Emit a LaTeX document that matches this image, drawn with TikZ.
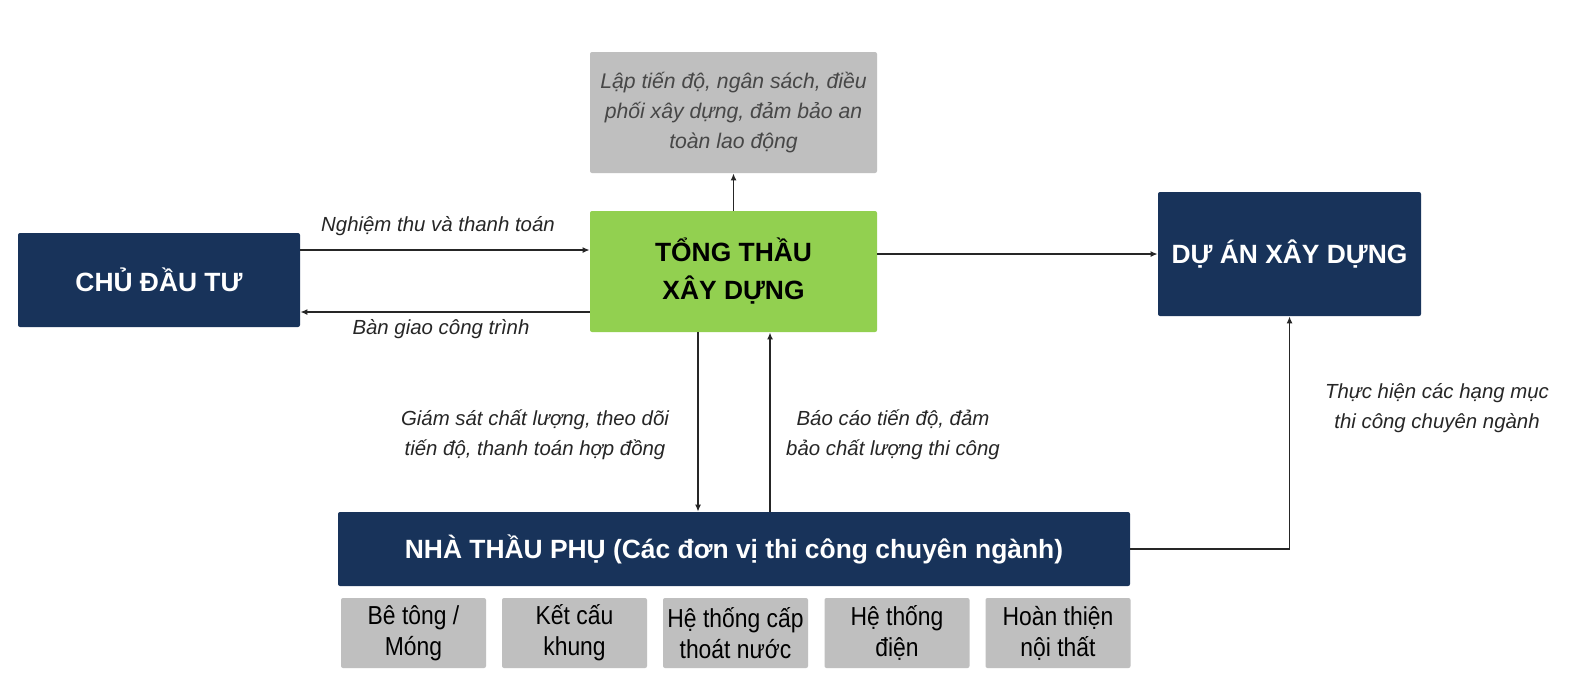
\documentclass[tikz,border=0pt]{standalone}
\usepackage{fontspec}
\setmainfont{Liberation Sans}
\newfontfamily\narrowfont{Liberation Sans}[FakeStretch=0.88]
\usetikzlibrary{arrows.meta}
\definecolor{navy}{HTML}{18335A}
\definecolor{leaf}{HTML}{92D050}
\definecolor{boxgray}{HTML}{BFBFBF}
\definecolor{ink}{HTML}{262626}
\tikzset{
	darkbox/.style={fill=navy, text=white, rounded corners=1pt, inner sep=0pt, align=center, font=\bfseries\fontsize{13.2}{19}\selectfont},
	greenbox/.style={fill=leaf, text=black, rounded corners=1pt, inner sep=0pt, align=center, font=\bfseries\fontsize{13.2}{19}\selectfont},
	notebox/.style={fill=boxgray, text=ink!85, rounded corners=1pt, inner sep=0pt, align=center, font=\itshape\fontsize{10.6}{15}\selectfont},
	subbox/.style={fill=boxgray, text=black, rounded corners=1pt, inner sep=0pt, align=center, minimum width=72.5pt, minimum height=35pt, font=\narrowfont\fontsize{13}{15.5}\selectfont},
	lbl/.style={text=ink, align=center, inner sep=0pt, font=\itshape\fontsize{10.2}{15}\selectfont},
	arr/.style={draw=ink, line width=0.8pt, -{Latex[length=3.5pt,width=3pt]}}
}
\begin{document}
\begin{tikzpicture}[x=0.5pt, y=-0.5pt]
		%%%%% START %%%%%
		\useasboundingbox[fill=white] (0,0) rectangle (1588,698);
		
		\node[darkbox, minimum width=141pt, minimum height=47pt] (chu) at (159,280) {CHỦ ĐẦU TƯ};
		\node[greenbox, minimum width=143.5pt, minimum height=60.5pt] (tong) at (733.5,271.5) {TỔNG THẦU\\XÂY DỰNG};
		\node[notebox, minimum width=143.5pt, minimum height=60.5pt] (note) at (733.5,112.5) {Lập tiến độ, ngân sách, điều\\phối xây dựng, đảm bảo an\\toàn lao động};
		\node[darkbox, minimum width=131.5pt, minimum height=62pt] (duan) at (1289.5,254) {DỰ ÁN XÂY DỰNG};
		\node[darkbox, minimum width=396pt, minimum height=37pt] (phu) at (734,549) {NHÀ THẦU PHỤ (Các đơn vị thi công chuyên ngành)};
		
		\node[subbox] (betong) at (413.5,633) {Bê tông /\\Móng};
		\node[subbox] (ketcau) at (574.5,633) {Kết cấu\\khung};
		\node[subbox] (capnuoc) at (735.5,633) {Hệ thống cấp\\thoát nước};
		\node[subbox] (dien) at (897,633) {Hệ thống\\điện};
		\node[subbox] (noithat) at (1058,633) {Hoàn thiện\\nội thất};
		
		\draw[arr] ([yshift=15pt]chu.east) -- ([yshift=15pt]chu.east -| tong.west);
		\draw[arr] ([yshift=-16pt]chu.east -| tong.west) -- ([yshift=-16pt]chu.east);
		\draw[arr] (tong.north) -- (tong.north |- note.south);
		\draw[arr] (tong.east |- duan.west) -- (duan.west);
		\draw[arr] ([xshift=-17.75pt]tong.south) -- ([xshift=-17.75pt]tong.south |- phu.north);
		\draw[arr] ([xshift=18.25pt]tong.south |- phu.north) -- ([xshift=18.25pt]tong.south);
		\draw[arr] (phu.east) -| (duan.south);
		
		\node[lbl] (l1) at (438,226) {Nghiệm thu và thanh toán};
		\node[lbl] (l2) at (441,329) {Bàn giao công trình};
		\node[lbl] (l3) at (535,435) {Giám sát chất lượng, theo dõi\\tiến độ, thanh toán hợp đồng};
		\node[lbl] (l4) at (893,435) {Báo cáo tiến độ, đảm\\bảo chất lượng thi công};
		\node[lbl] (l5) at (1437,408) {Thực hiện các hạng mục\\thi công chuyên ngành};
		%%%%% END %%%%%
	\end{tikzpicture}
\end{document}
